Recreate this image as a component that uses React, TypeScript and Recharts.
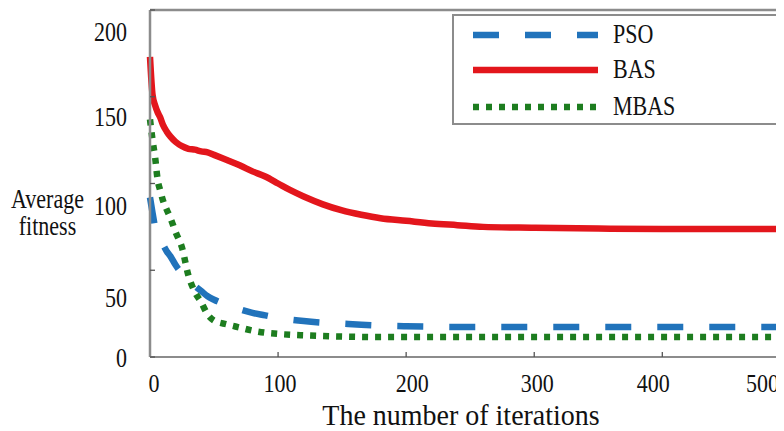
import React from 'react';
import { LineChart, Line, XAxis, YAxis, Legend } from 'recharts';

const iterations = [0, 2, 4, 6, 8, 10, 13, 16, 20, 25, 30, 35, 40, 45, 50, 60, 70, 80, 90, 100, 110, 120, 135, 150, 165, 180, 200, 220, 240, 260, 300, 350, 400, 450, 500, 520];
const psoFitness = [92, 83, 75, 71, 68, 65, 61, 58, 53, 48, 44, 41, 38, 35, 33, 30, 27.5, 25.4, 24, 22.5, 21.5, 20.7, 19.8, 19.2, 18.6, 18.1, 17.7, 17.5, 17.3, 17.3, 17.3, 17.3, 17.3, 17.3, 17.3, 17.3];
const basFitness = [173, 151, 145, 141, 138, 134, 130, 127, 124, 121.5, 120, 119.5, 118.5, 118, 116.5, 113.5, 110.5, 107, 104, 100, 96, 92.5, 88, 84.5, 82, 80, 78.5, 77, 76, 75, 74.5, 74, 73.8, 73.8, 73.8, 73.8];
const mbasFitness = [137, 125, 115, 102, 96, 90.5, 85, 80, 72, 63, 47, 37.5, 31.5, 24.5, 21, 18.8, 17, 15.2, 14, 13.3, 12.8, 12.5, 12.1, 11.8, 11.6, 11.5, 11.5, 11.5, 11.5, 11.5, 11.5, 11.5, 11.5, 11.5, 11.5, 11.5];

const seriesNames = ['PSO', 'BAS', 'MBAS'];
const xTicks = [0, 100, 200, 300, 400, 500];
const yTicks = [0, 50, 100, 150, 200];

const data = iterations.map((it, i) => ({
  it,
  PSO: psoFitness[i],
  BAS: basFitness[i],
  MBAS: mbasFitness[i]
}));

const serif = '"Liberation Serif", "Times New Roman", serif';
const axisGray = '#8c8c8c';

const seriesStyle: Record<string, { color: string; dash?: string; width: number }> = {
  PSO: { color: '#2173bb', dash: '26 26', width: 6.5 },
  BAS: { color: '#e3161c', width: 6.5 },
  MBAS: { color: '#1d7d1f', dash: '6 7', width: 6.5 }
};

// the labels in the source sit a little off their tick marks
const yLabelShift: Record<number, number> = { 0: 1, 50: 28, 100: 22, 150: 20, 200: 15 };
const xLabelShift: Record<number, number> = { 0: 4, 100: 2, 200: 6, 300: 3, 400: -9, 500: -28 };

const YTick = (props: any) => {
  const { x, y, payload } = props;
  const dy = yLabelShift[payload.value] ?? 0;
  return (
    <text
      transform={`translate(${x},${y + dy + 9}) scale(1,1.2)`}
      textAnchor="end"
      fontFamily={serif}
      fontSize={22}
      fill="#111"
    >
      {payload.value}
    </text>
  );
};

const XTick = (props: any) => {
  const { x, y, payload } = props;
  const dx = xLabelShift[payload.value] ?? 0;
  return (
    <text
      transform={`translate(${x + dx},${y + 40}) scale(1,1.15)`}
      textAnchor="middle"
      fontFamily={serif}
      fontSize={22}
      fill="#111"
    >
      {payload.value}
    </text>
  );
};

const renderLegend = () => {
  const rows = [21, 56, 93];
  return (
    <svg width={400} height={111} style={{ display: 'block' }}>
      <rect x={1} y={1} width={420} height={109} fill="#fff" stroke={axisGray} strokeWidth={2} />
      {seriesNames.map((name, i) => {
        const s = seriesStyle[name];
        const ly = rows[i];
        return (
          <g key={name}>
            <line
              x1={21}
              x2={146}
              y1={ly}
              y2={ly}
              stroke={s.color}
              strokeWidth={s.width}
              strokeDasharray={s.dash}
            />
            <text
              transform={`translate(161,${ly + 8}) scale(1,1.2)`}
              fontFamily={serif}
              fontSize={22}
              fill="#111"
            >
              {name}
            </text>
          </g>
        );
      })}
    </svg>
  );
};

export default function App() {
  return (
    <div style={{ position: 'relative', width: 776, height: 423, overflow: 'hidden', background: '#fff' }}>
      <LineChart width={820} height={423} data={data} margin={{ top: 0, right: 12, bottom: 44, left: 0 }}>
        <XAxis
          dataKey="it"
          type="number"
          domain={[0, 520]}
          ticks={xTicks}
          tick={<XTick />}
          tickSize={-5}
          tickMargin={0}
          height={30}
          axisLine={{ stroke: axisGray, strokeWidth: 2 }}
          tickLine={{ stroke: '#555', strokeWidth: 1.3 }}
        />
        <XAxis
          xAxisId="top"
          orientation="top"
          type="number"
          domain={[0, 520]}
          ticks={xTicks}
          tick={false}
          tickSize={-5}
          height={2}
          axisLine={{ stroke: axisGray, strokeWidth: 2.5 }}
          tickLine={{ stroke: '#555', strokeWidth: 1.3 }}
        />
        <YAxis
          type="number"
          domain={[0, 200]}
          ticks={yTicks}
          tick={<YTick />}
          tickSize={-5}
          tickMargin={28}
          width={142}
          axisLine={{ stroke: axisGray, strokeWidth: 2.5 }}
          tickLine={{ stroke: '#555', strokeWidth: 1.3 }}
        />
        <Legend
          layout="vertical"
          align="center"
          verticalAlign="middle"
          content={renderLegend}
          wrapperStyle={{ left: 444, top: 6, width: 400, height: 111 }}
        />
        {seriesNames.map((key) => (
          <Line
            key={key}
            type="monotone"
            dataKey={key}
            stroke={seriesStyle[key].color}
            strokeWidth={seriesStyle[key].width}
            strokeDasharray={seriesStyle[key].dash}
            dot={false}
            activeDot={false}
            isAnimationActive={false}
          />
        ))}
      </LineChart>
      <svg width={776} height={423} style={{ position: 'absolute', left: 0, top: 0, pointerEvents: 'none' }}>
        <text transform="translate(39.5,200) scale(1,1.25)" textAnchor="middle" fontFamily={serif} fontSize={22} fill="#111">
          Average
        </text>
        <text transform="translate(39.5,227) scale(1,1.25)" textAnchor="middle" fontFamily={serif} fontSize={22} fill="#111">
          fitness
        </text>
        <text transform="translate(453,416.5) scale(1,1.08)" textAnchor="middle" fontFamily={serif} fontSize={28} fill="#111">
          The number of iterations
        </text>
      </svg>
    </div>
  );
}
